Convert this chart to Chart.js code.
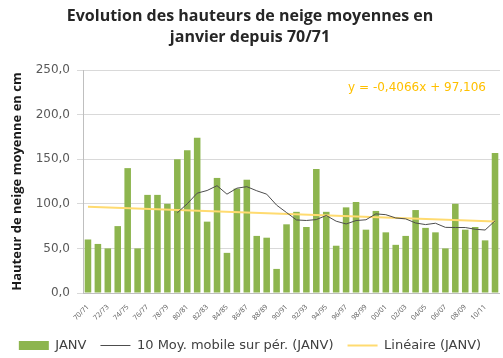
<!DOCTYPE html>
<html>
<head>
<meta charset="utf-8">
<script src="https://cdn.jsdelivr.net/npm/chart.js@4.4.0/dist/chart.umd.min.js"></script>
<style>
  html, body { margin: 0; padding: 0; background: #fff; }
  #wrap { width: 503px; height: 358px; }
</style>
</head>
<body>
<div id="wrap"><canvas id="snowChart"></canvas></div>
<script>
const seasons = [
  "70/71", "71/72", "72/73", "73/74", "74/75", "75/76", "76/77", "77/78", "78/79", "79/80",
  "80/81", "81/82", "82/83", "83/84", "84/85", "85/86", "86/87", "87/88", "88/89", "89/90",
  "90/91", "91/92", "92/93", "93/94", "94/95", "95/96", "96/97", "97/98", "98/99", "99/00",
  "00/01", "01/02", "02/03", "03/04", "04/05", "05/06", "06/07", "07/08", "08/09", "09/10",
  "10/11", "11/12",
];

// hauteur moyenne de janvier (cm)
const janv = [
  60, 55, 50, 75, 140, 50, 110, 110, 100, 150,
  160, 174, 80, 129, 45, 117, 127, 64, 62, 27,
  77, 91, 74, 139, 91, 53, 96, 102, 71, 92,
  68, 54, 64, 93, 73, 68, 50, 100, 71, 74,
  59, 157,
];

// moyenne mobile sur 10 saisons
const moyMobile = [
  null, null, null, null, null, null, null, null, null, 90,
  100, 111.9, 114.9, 120.3, 110.8, 117.5, 119.2, 114.6, 110.8, 98.5,
  90.2, 81.9, 81.3, 82.3, 86.9, 80.5, 77.4, 81.2, 82.1, 88.7,
  87.8, 84.1, 83.1, 78.5, 76.7, 78.2, 73.6, 73.4, 73.4, 71.5,
  70.6, 80.9,
];

// tendance linéaire : y = -0,4066x + 97,106
const trendSlope = -0.4066;
const trendIntercept = 97.106;
const trendText = "y = -0,4066x + 97,106";

const yTicks = [0, 50, 100, 150, 200, 250];

const lineaire = seasons.map((s, i) =>
  i === 0 || i === seasons.length - 1 ? trendIntercept + trendSlope * (i + 1) : null
);

const TITLE_FONT = "'Open Sans'";
const FONT = "'DejaVu Sans'";

// equation of the trend line, top right of the plot
const trendLabel = {
  id: "trendLabel",
  afterDatasetsDraw(chart) {
    const { ctx, chartArea } = chart;
    ctx.save();
    ctx.font = "12px " + FONT;
    ctx.fillStyle = "#FFC000";
    ctx.textAlign = "right";
    ctx.textBaseline = "middle";
    ctx.fillText(trendText, chartArea.right - 14, chartArea.top + 18);
    ctx.restore();
  },
};

const ctx = document.getElementById("snowChart").getContext("2d");
const snowChart = new Chart(ctx, {
  type: "bar",
  data: {
    labels: seasons,
    datasets: [
      {
        label: "JANV",
        data: janv,
        backgroundColor: "#8DB54E",
        barPercentage: 1,
        categoryPercentage: 0.66,
        order: 3,
      },
      {
        type: "line",
        label: "10 Moy. mobile sur pér. (JANV)",
        data: moyMobile,
        borderColor: "#4D4D4D",
        borderWidth: 1,
        pointRadius: 0,
        tension: 0,
        order: 1,
      },
      {
        type: "line",
        label: "Linéaire (JANV)",
        data: lineaire,
        borderColor: "#FFDB70",
        borderWidth: 2,
        pointRadius: 0,
        spanGaps: true,
        order: 2,
      },
    ],
  },
  options: {
    responsive: true,
    maintainAspectRatio: false,
    animation: false,
    layout: {
      padding: { left: 0, right: 3, top: 0, bottom: -4 },
    },
    plugins: {
      title: {
        display: true,
        text: ["Evolution des hauteurs de neige moyennes en", "janvier depuis 70/71"],
        color: "#262626",
        font: { family: TITLE_FONT, size: 16, weight: "bold", lineHeight: "21px" },
        padding: { top: 6, bottom: 22 },
      },
      legend: {
        position: "bottom",
        labels: {
          color: "#404040",
          font: { family: FONT, size: 13 },
          usePointStyle: true,
          pointStyleWidth: 30,
          boxHeight: 9,
          padding: 14,
          generateLabels(chart) {
            return chart.data.datasets.map((ds, i) => ({
              text: ds.label,
              fillStyle: ds.type === "line" ? ds.borderColor : ds.backgroundColor,
              strokeStyle: ds.type === "line" ? ds.borderColor : ds.backgroundColor,
              lineWidth: ds.type === "line" ? ds.borderWidth : 0,
              pointStyle: ds.type === "line" ? "line" : "rect",
              fontColor: "#404040",
              hidden: !chart.isDatasetVisible(i),
              datasetIndex: i,
            }));
          },
        },
      },
      tooltip: { enabled: false },
    },
    scales: {
      x: {
        grid: { display: false },
        border: { color: "#BFBFBF" },
        ticks: {
          autoSkip: false,
          maxRotation: 45,
          minRotation: 45,
          padding: 2,
          color: "#595959",
          font: { family: TITLE_FONT, size: 7 },
          callback(value, index) {
            return index % 2 === 0 ? seasons[index] : "";
          },
        },
        afterFit(scale) {
          scale.height = 32;
        },
      },
      y: {
        min: 0,
        max: 250,
        afterBuildTicks(scale) {
          scale.ticks = yTicks.map((v) => ({ value: v }));
        },
        grid: { color: "#D9D9D9", tickLength: 6 },
        border: { color: "#BFBFBF" },
        ticks: {
          padding: 7,
          color: "#595959",
          font: { family: FONT, size: 12 },
          callback: (v) => v.toFixed(1).replace(".", ","),
        },
        title: {
          display: true,
          text: "Hauteur de neige moyenne en cm",
          color: "#1a1a1a",
          font: { family: TITLE_FONT, size: 13, weight: "bold" },
          padding: { top: 9, bottom: 0 },
        },
        afterFit(scale) {
          scale.width = 83;
        },
      },
    },
  },
  plugins: [trendLabel],
});
</script>
</body>
</html>
